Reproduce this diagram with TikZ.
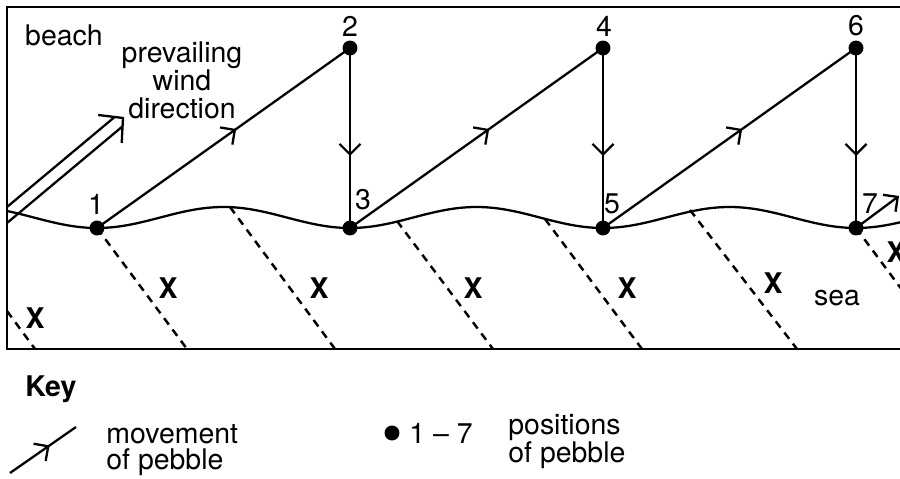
\documentclass[tikz,border=0pt]{standalone}
\usepackage{fontspec}
\setmainfont{TeX Gyre Heros}
\usetikzlibrary{arrows.meta,decorations.markings,positioning}

\tikzset{
  pebble/.style={circle, fill=black, inner sep=0pt, minimum size=8.5pt},
  movement/.style={line width=1.3pt, postaction={decorate},
    decoration={markings, mark=at position #1 with {\arrow{Straight Barb[length=6pt,width=12pt]}}}},
  movement/.default=0.55,
  crestline/.style={line width=1.4pt, dash pattern=on 4.5pt off 3.5pt},
  lbl/.style={inner sep=0pt, font=\fontsize{16.2}{15.9}\selectfont},
  xmark/.style={lbl, font=\fontsize{16.2}{15.9}\selectfont\bfseries},
}

\begin{document}
\begin{tikzpicture}[x=0.02cm, y=-0.02cm, line join=miter]
    \useasboundingbox (0,0) rectangle (900,479);
    \clip (0,0) rectangle (900,479);
    % frame, open at the right
    \draw[line width=1.6pt] (910,7) -- (7,7) -- (7,349) -- (910,349);
    % shoreline
    \draw[line width=1.3pt] plot[domain=7:910, samples=240] (\x, {217.5+10.5*cos(((\x-97)/253)*360)});
    % wave crests
    \foreach \sx/\sy/\ex in {7/311/35, 97/228/187, 230/207/335, 397/221/493, 545/219/642, 690/210/797, 856/228/946} { \draw[crestline] (\sx,\sy) -- (\ex,349); }
    \foreach \x/\y in {35/318, 168/288, 319/288, 473/288, 627/288, 773/283, 896/252} { \node[xmark] at (\x,\y) {X}; }
    % pebble positions
    \foreach \n/\x/\y in {1/97/228, 2/350/48, 3/350/228, 4/603/48, 5/603/228, 6/856/48, 7/856/228} { \node[pebble] (p\n) at (\x,\y) {}; }
    \foreach \n/\x/\y in {1/96/204, 2/350/26, 3/363/200, 4/604/26, 5/612/204, 6/856/26, 7/870/204} { \node[lbl] at (\x,\y) {\n}; }
    \foreach \a/\b in {1/2, 3/4, 5/6} { \draw[movement] (p\a.center) -- (p\b.center); }
    \foreach \a/\b in {2/3, 4/5, 6/7} { \draw[movement=0.6] (p\a.center) -- (p\b.center); }
    \coordinate (e7) at (899,196);
    \draw[line width=1.3pt, -{Straight Barb[length=6pt,width=12pt]}] (p7.center) -- (e7);
    % wind
    \draw[line width=1.3pt] (7,207) -- (114.7,117) (7,223) -- (122.5,126.4) (98.2,115) -- (123,118) -- (121.7,143);
    \node[lbl] (beach) at (64,35) {beach};
    \node[lbl, align=center] (wind) at (182,80) {prevailing\\wind\\direction};
    \node[lbl] (sea) at (837,298) {sea};
    % key
    \node[xmark, anchor=base west] (key) at (25,397) {Key};
    \coordinate (k0) at (10,473);
    \coordinate (k1) at (76,427);
    \draw[movement=0.6] (k0) -- (k1);
    \node[lbl, font=\fontsize{16.2}{15.3}\selectfont, anchor=base west, align=left] (movetxt) at (106,470) {movement\\of pebble};
    \node[pebble] (kdot) at (392,433) {};
    \node[lbl, anchor=west] (range) at (409,433) {1 – 7};
    \node[lbl, font=\fontsize{16.2}{14.2}\selectfont, anchor=base west, align=left] (postxt) at (508,463) {positions\\of pebble};
\end{tikzpicture}
\end{document}
